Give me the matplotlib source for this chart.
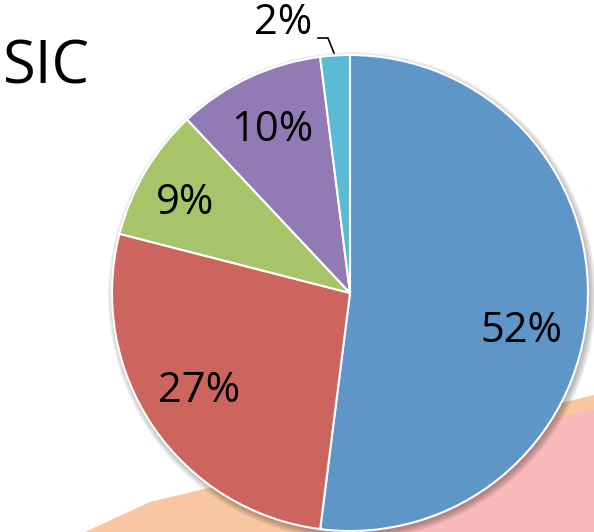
import matplotlib.pyplot as plt
from matplotlib.patches import Polygon, Circle

# share of each slice, clockwise from 12 o'clock
shares = [52, 27, 9, 10, 2]
colors = ["#5F96C8", "#CB655E", "#A8C46A", "#927AB4", "#5BBAD4"]
title = "SIC"

W, H = 594, 532
cx, cy, r = 350, H - 293, 238

fig = plt.figure(figsize=(W / 100, H / 100), dpi=100)
ax = fig.add_axes([0, 0, 1, 1])

# slide decoration behind the pie
ax.add_patch(Polygon([(85, 0), (150, 30), (594, 137), (594, 0)], closed=True,
                     facecolor="#F9C6A2", edgecolor="none", zorder=0))
ax.add_patch(Polygon([(300, 0), (420, 70), (500, 104), (594, 122), (594, 0)],
                     closed=True, facecolor="#F8B9B9", edgecolor="none", zorder=0))

# soft drop shadow under the pie
for k in range(6):
    ax.add_patch(Circle((cx + 2, cy - 3), r + k * 1.2, facecolor="black",
                        edgecolor="none", alpha=0.05, zorder=1))

wedges, _ = ax.pie(shares, colors=colors, startangle=90, counterclock=False,
                   center=(cx, cy), radius=r, frame=True,
                   wedgeprops=dict(edgecolor="white", linewidth=1.5))
for w in wedges:
    w.set_zorder(2)
ax.set_xlim(0, W)
ax.set_ylim(0, H)
ax.set_aspect("equal")
ax.axis("off")

font = dict(family="Open Sans", color="black")

label_pos = [(521, H - 331), (199, H - 391), (185, H - 203),
             (272, H - 130), (283, H - 23)]
for s, (x, y) in zip(shares, label_pos):
    ax.text(x, y, f"{s}%", ha="center", va="center", fontsize=30,
            zorder=3, **font)

# leader line for the small slice
ax.plot([318, 328, 334], [H - 38, H - 38, H - 53], color="black",
        linewidth=1.2, zorder=3)

ax.text(3, H - 67, title, ha="left", va="center", fontsize=43, **font)

fig.savefig("out.png", dpi=100)
